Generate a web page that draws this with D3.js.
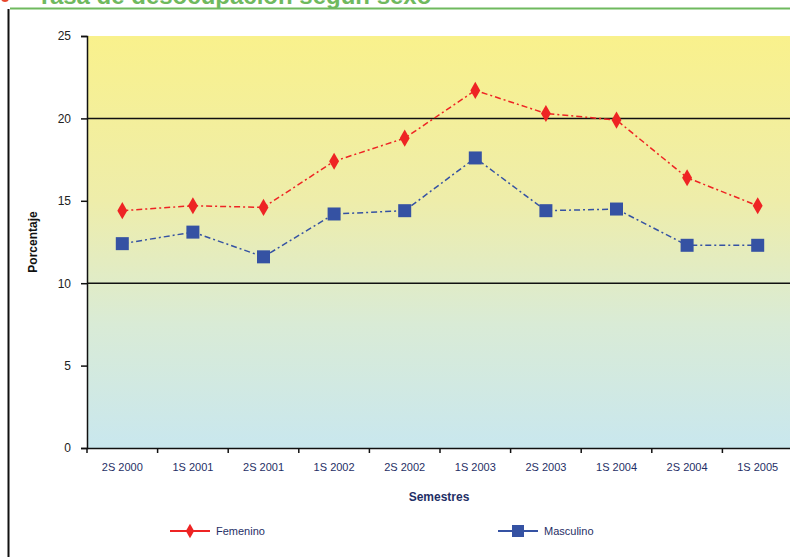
<!DOCTYPE html>
<html>
<head>
<meta charset="utf-8">
<script src="https://cdn.jsdelivr.net/npm/d3@7"></script>
<style>
  body { margin: 0; background: #fff; }
  svg { display: block; font-family: "Liberation Sans", Arial, sans-serif; }
</style>
</head>
<body>
<div id="chart"></div>
<script>
// semestres
var categorias = ["2S 2000", "1S 2001", "2S 2001", "1S 2002", "2S 2002", "1S 2003", "2S 2003", "1S 2004", "2S 2004", "1S 2005"];
var femenino = [14.4, 14.7, 14.6, 17.4, 18.8, 21.7, 20.3, 19.9, 16.4, 14.7];
var masculino = [12.4, 13.1, 11.6, 14.2, 14.4, 17.6, 14.4, 14.5, 12.3, 12.3];
var yTicks = [0, 5, 10, 15, 20, 25];
var gridVals = [10, 20];

var W = 790, H = 557;
var svg = d3.select("#chart").append("svg").attr("width", W).attr("height", H);

var pLeft = 87, pRight = 793, pTop = 36, pBottom = 448;

var defs = svg.append("defs");
var grad = defs.append("linearGradient").attr("id", "bg").attr("x1", 0).attr("y1", 0).attr("x2", 0).attr("y2", 1);
grad.append("stop").attr("offset", "0%").attr("stop-color", "#f9f18c");
grad.append("stop").attr("offset", "40%").attr("stop-color", "#eeedaa");
grad.append("stop").attr("offset", "70%").attr("stop-color", "#d9ebd6");
grad.append("stop").attr("offset", "100%").attr("stop-color", "#c9e7ee");

// frame bits from the page (title is cut off at the top, like the source)
svg.append("text").attr("x", 37).attr("y", 4).attr("fill", "#6fb95e")
  .attr("font-size", 24).attr("font-weight", "bold")
  .text("Tasa de desocupación según sexo");
svg.append("circle").attr("cx", 5).attr("cy", -2).attr("r", 4).attr("fill", "#e8452c");
svg.append("line").attr("x1", 10).attr("x2", W).attr("y1", 8.5).attr("y2", 8.5)
  .attr("stroke", "#6fb95e").attr("stroke-width", 2);
svg.append("line").attr("x1", 8.5).attr("x2", 8.5).attr("y1", 9).attr("y2", H)
  .attr("stroke", "#111").attr("stroke-width", 2);

var x = d3.scaleBand().domain(categorias).range([pLeft, pRight]);
var y = d3.scaleLinear().domain([0, 25]).range([pBottom, pTop]);

svg.append("rect").attr("x", pLeft).attr("y", pTop).attr("width", pRight - pLeft).attr("height", pBottom - pTop)
  .attr("fill", "url(#bg)");

svg.selectAll("line.grid").data(gridVals).enter().append("line").attr("class", "grid")
  .attr("x1", pLeft).attr("x2", pRight).attr("y1", d => y(d)).attr("y2", d => y(d))
  .attr("stroke", "#111").attr("stroke-width", 1.5);

// y axis
var yAxis = svg.append("g").attr("transform", "translate(" + pLeft + ",0)")
  .call(d3.axisLeft(y).tickValues(yTicks).tickSize(6).tickPadding(10));
yAxis.select(".domain").attr("stroke", "#111").attr("stroke-width", 1.5);
yAxis.selectAll(".tick line").attr("stroke", "#111").attr("stroke-width", 1.5);
yAxis.selectAll("text").attr("font-size", 12).attr("fill", "#222").attr("font-family", "Liberation Sans, Arial");

// x axis
var xAxis = svg.append("g").attr("transform", "translate(0," + pBottom + ")")
  .call(d3.axisBottom(x).tickSize(0).tickPadding(15));
xAxis.select(".domain").attr("stroke", "#111").attr("stroke-width", 1.5);
xAxis.selectAll("text").attr("font-size", 11).attr("fill", "#1f2f66");
xAxis.selectAll("line.bt").data(d3.range(categorias.length + 1)).enter().append("line").attr("class", "bt")
  .attr("x1", i => pLeft + i * x.step()).attr("x2", i => pLeft + i * x.step())
  .attr("y1", 0).attr("y2", 5).attr("stroke", "#111").attr("stroke-width", 1.5);

// axis titles
svg.append("text").attr("x", 439).attr("y", 501).attr("text-anchor", "middle")
  .attr("font-size", 12).attr("font-weight", "bold").attr("fill", "#1f2f66").text("Semestres");
svg.append("text").attr("transform", "translate(37,242) rotate(-90)").attr("text-anchor", "middle")
  .attr("font-size", 12).attr("font-weight", "bold").attr("fill", "#111").text("Porcentaje");

var cx = d => x(d) + x.bandwidth() / 2;

var line = d3.line().x(d => cx(d.c)).y(d => y(d.v));
var rojo = "#ee2424", azul = "#3552a3";
var fData = categorias.map((c, i) => ({ c: c, v: femenino[i] }));
var mData = categorias.map((c, i) => ({ c: c, v: masculino[i] }));

svg.append("path").datum(mData).attr("d", line).attr("fill", "none")
  .attr("stroke", azul).attr("stroke-width", 1.5).attr("stroke-dasharray", "6,3,2,3");
svg.append("path").datum(fData).attr("d", line).attr("fill", "none")
  .attr("stroke", rojo).attr("stroke-width", 1.5).attr("stroke-dasharray", "6,3,2,3");

var diamond = d3.symbol().type(d3.symbolDiamond).size(85);
svg.selectAll("path.f").data(fData).enter().append("path").attr("class", "f")
  .attr("d", diamond).attr("fill", rojo)
  .attr("transform", d => "translate(" + cx(d.c) + "," + y(d.v) + ")");
svg.selectAll("rect.m").data(mData).enter().append("rect").attr("class", "m")
  .attr("x", d => cx(d.c) - 6.5).attr("y", d => y(d.v) - 6.5).attr("width", 13).attr("height", 13)
  .attr("fill", azul);

// legend
var leg = [
  { name: "Femenino", color: rojo, x: 170, shape: "d" },
  { name: "Masculino", color: azul, x: 498, shape: "s" }
];
var ly = 531;
leg.forEach(function (l) {
  svg.append("line").attr("x1", l.x).attr("x2", l.x + 40).attr("y1", ly).attr("y2", ly)
    .attr("stroke", l.color).attr("stroke-width", 2);
  if (l.shape === "d") {
    svg.append("path").attr("d", d3.symbol().type(d3.symbolDiamond).size(60))
      .attr("transform", "translate(" + (l.x + 20) + "," + ly + ")").attr("fill", l.color);
  } else {
    svg.append("rect").attr("x", l.x + 14).attr("y", ly - 6).attr("width", 12).attr("height", 12).attr("fill", l.color);
  }
  svg.append("text").attr("x", l.x + 46).attr("y", ly + 4).attr("font-size", 11).attr("fill", "#1f2f66").text(l.name);
});
</script>
</body>
</html>
